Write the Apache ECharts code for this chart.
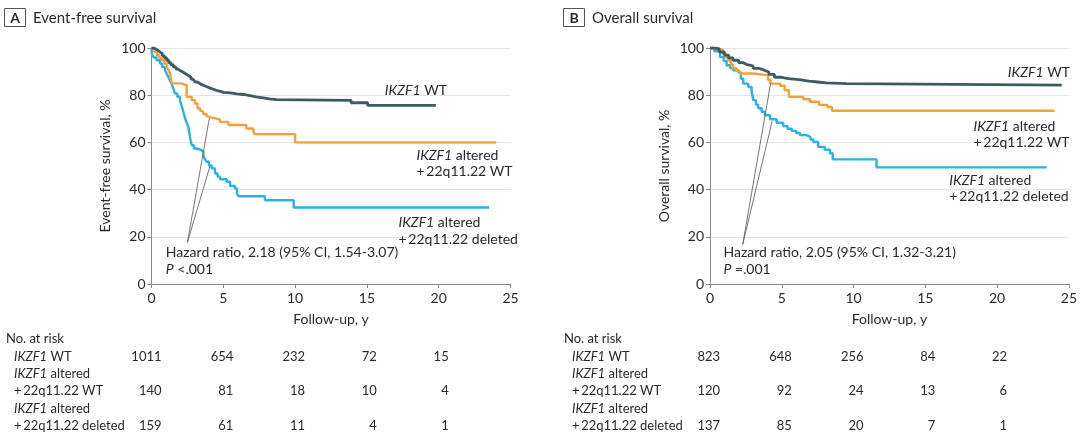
<!DOCTYPE html>
<html><head><meta charset="utf-8">
<script src="https://cdn.jsdelivr.net/npm/echarts@6/dist/echarts.min.js"></script>
<style>html,body{margin:0;padding:0;background:#fff}#c{width:1080px;height:437px}</style>
</head><body><div id="c"></div>
<script>
// ---- Data (Kaplan-Meier steps: [years, survival %]) ----
const efsWT = [[0,100],[0.15,99.6],[0.3,99],[0.45,98.3],[0.6,97.6],[0.75,96.7],[0.9,95.8],[1.06,94.8],[1.2,93.8],[1.35,92.9],[1.52,92],[1.7,91.1],[1.85,90.4],[2.0,89.8],[2.2,89],[2.4,88.3],[2.56,87.7],[2.75,86.8],[2.9,86.1],[3.03,85.6],[3.2,84.8],[3.4,84.2],[3.61,83.5],[3.9,82.8],[4.19,82.1],[4.5,81.6],[4.8,81.2],[5.0,81],[5.5,80.6],[5.93,80.3],[6.4,79.8],[6.86,79.3],[7.3,78.9],[7.79,78.4],[8.2,78.1],[8.72,77.8],[13.9,76.8],[15.05,75.7],[19.8,75.7]];
const efsAltWT = [[0,100],[0.2,98.5],[0.36,96.9],[0.55,95.8],[0.71,94.8],[0.9,93.4],[1.06,92],[1.18,90.6],[1.29,89.2],[1.35,87],[1.42,85],[2.1,84.2],[2.45,79.3],[2.8,77.9],[3.03,76.5],[3.2,74.5],[3.38,73.6],[3.49,72.9],[3.61,72],[3.84,71.1],[3.96,70.5],[4.19,69.7],[4.77,68.7],[5.35,67.4],[6.6,65.9],[7.09,64.5],[7.2,63.5],[10.0,60],[24.0,60]];
const efsAltDel = [[0,100],[0.02,97.6],[0.15,96],[0.35,94.8],[0.59,93.4],[0.75,92],[0.94,90.6],[1.05,89.2],[1.17,87.7],[1.28,86.3],[1.4,84.9],[1.52,82.8],[1.64,80.7],[1.8,79.3],[1.98,77.9],[2.1,75.5],[2.22,72.9],[2.35,70],[2.45,68.4],[2.56,66.6],[2.65,63.5],[2.72,61],[2.8,58.8],[2.95,57.4],[3.1,57],[3.38,56.2],[3.61,54.6],[3.72,52.8],[3.84,51.8],[4.0,50.2],[4.19,49],[4.42,46.8],[4.6,45.5],[4.77,44.4],[5.24,43.3],[5.47,41.5],[5.81,40.5],[5.95,38.5],[6.05,37.2],[7.9,35.5],[9.9,32.4],[23.5,32.4]];

const osWT = [[0,100],[0.3,99.6],[0.65,98.3],[1.0,97],[1.3,95.8],[1.6,94.8],[2.0,93.8],[2.3,93],[2.57,92.4],[3.0,91.4],[3.4,90.6],[3.77,89.8],[4.1,88.8],[4.49,87.6],[5.0,87],[5.45,86.6],[6.2,86],[6.89,85.6],[7.5,85.2],[8.09,84.9],[9.5,84.3],[24.5,84.3]];
const osAltWT = [[0,100],[0.4,99.2],[0.89,97.6],[1.1,96],[1.25,94.8],[1.45,93],[1.6,91.3],[1.85,90.2],[2.09,89.2],[3.05,88.4],[4.05,86.5],[4.2,84.9],[4.9,84],[5.2,82.1],[5.5,79.3],[6.5,78.3],[6.96,77.2],[7.6,75.9],[8.18,75],[8.5,73.4],[24.0,73.4]];
const osAltDel = [[0,100],[0.3,98.6],[0.7,96.2],[0.95,94.5],[1.16,92.7],[1.4,91.5],[1.62,90.6],[1.97,89.7],[2.15,87],[2.32,84.9],[2.67,83.5],[2.9,81.4],[2.97,79.5],[3.02,77.9],[3.2,76],[3.36,74.5],[3.6,73],[3.83,71.5],[4.18,69.8],[4.64,68.3],[5.1,66.9],[5.4,65.8],[5.69,64.9],[6.0,64],[6.27,63.1],[6.73,62.3],[7.0,61.2],[7.2,60.2],[7.54,58.1],[8.0,56.9],[8.36,55.4],[8.55,52.8],[11.6,49.4],[23.45,49.4]];

// Hazard-ratio pointer lines
const hrLinesA = [[[2.5,17.6],[4.03,70.3]], [[2.5,17.6],[4.07,49.9]]];
const hrLinesB = [[[2.28,16.8],[4.22,85.0]], [[2.28,16.8],[4.33,69.0]]];

// Axis ticks
const xTicks = [0,5,10,15,20,25];
const yTicks = [0,20,40,60,80,100];

// Number at risk
const riskTimes = [0,5,10,15,20];
const riskEfsWT = [1011,654,232,72,15];
const riskEfsAltWT = [140,81,18,10,4];
const riskEfsAltDel = [159,61,11,4,1];
const riskOsWT = [823,648,256,84,22];
const riskOsAltWT = [120,92,24,13,6];
const riskOsAltDel = [137,85,20,7,1];

// Texts
const panelTitles = ['Event-free survival','Overall survival'];
const panelLetters = ['A','B'];
const yNames = ['Event-free survival, %','Overall survival, %'];
const xName = 'Follow-up, y';
const hrTextA = ['Hazard ratio, 2.18 (95% CI, 1.54-3.07)','<.001'];
const hrTextB = ['Hazard ratio, 2.05 (95% CI, 1.32-3.21)','=.001'];

// ---- Styles ----
const FONT = 'Lato, "Noto Sans", sans-serif';
const TXT = '#2a2a2a';
const C_WT = '#3e5b63';
const C_ALT = '#f5a036';
const C_DEL = '#27b3e8';

const chart = echarts.init(document.getElementById('c'), null, {renderer:'canvas'});

function xAxisCfg(gi){
  return {gridIndex:gi, type:'value', min:0, max:25, interval:5, name:xName, nameLocation:'middle', nameGap:28,
    nameTextStyle:{fontSize:14, color:TXT, fontFamily:FONT},
    axisLine:{show:true, onZero:false, lineStyle:{color:'#8a8a8a', width:1}},
    axisTick:{show:true, length:4, lineStyle:{color:'#8a8a8a'}},
    axisLabel:{fontSize:14, color:TXT, fontFamily:FONT, margin:7},
    splitLine:{show:false}};
}
function yAxisCfg(gi){
  return {gridIndex:gi, type:'value', min:0, max:100, interval:20, name:yNames[gi], nameLocation:'middle', nameGap:39, nameRotate:90,
    nameTextStyle:{fontSize:14, color:TXT, fontFamily:FONT},
    axisLine:{show:true, lineStyle:{color:'#8a8a8a', width:1}},
    axisTick:{show:true, length:4, lineStyle:{color:'#8a8a8a'}},
    axisLabel:{fontSize:14, color:TXT, fontFamily:FONT, margin:6},
    splitLine:{show:true, lineStyle:{color:'#e4e4e4', width:1}}};
}
function km(data, gi, color, w){
  return {type:'line', xAxisIndex:gi, yAxisIndex:gi, data:data, step:'end', showSymbol:false, symbol:'none',
    lineStyle:{color:color, width:w}, silent:true, z:3};
}
function pointer(data, gi){
  return {type:'line', xAxisIndex:gi, yAxisIndex:gi, data:data, showSymbol:false, symbol:'none',
    lineStyle:{color:'#666666', width:0.9}, silent:true, z:4};
}

chart.setOption({
  animation:false,
  textStyle:{fontFamily:FONT},
  grid:[{left:151.5, right:569.5, top:48, bottom:153},{left:710, right:11, top:48, bottom:153}],
  xAxis:[xAxisCfg(0), xAxisCfg(1)],
  yAxis:[yAxisCfg(0), yAxisCfg(1)],
  series:[
    km(efsAltDel,0,C_DEL,2.4), km(efsAltWT,0,C_ALT,2.4), km(efsWT,0,C_WT,2.8),
    km(osAltDel,1,C_DEL,2.4), km(osAltWT,1,C_ALT,2.4), km(osWT,1,C_WT,2.8),
    pointer(hrLinesA[0],0), pointer(hrLinesA[1],0), pointer(hrLinesB[0],1), pointer(hrLinesB[1],1)
  ]
});

function txt(x, y, text, opt){
  opt = opt || {};
  return {type:'text', x:x, y:y, silent:true, z:10, style:{text:text, fill:TXT, fontSize:opt.size||14, fontFamily:FONT,
    fontWeight:opt.weight||'normal', textAlign:opt.align||'left', textVerticalAlign:'middle', rich:{
      i:{fontStyle:'italic', fontSize:opt.size||14, fill:TXT, fontFamily:FONT},
      n:{fontSize:opt.size||14, fill:TXT, fontFamily:FONT}}}};
}
function P(gi, pt){ return chart.convertToPixel({gridIndex:gi}, pt); }

const g = [];
// Panel titles
const titleX = [4, 563];
for (let k=0;k<2;k++){
  g.push({type:'rect', shape:{x:titleX[k]+0.5, y:8.5, width:21, height:18}, style:{fill:'#fff', stroke:'#555', lineWidth:1}, silent:true});
  g.push(txt(titleX[k]+11, 18, panelLetters[k], {align:'center', weight:'bold', size:14}));
  g.push(txt(titleX[k]+29, 18, panelTitles[k], {size:15}));
}
function lab(gi, x, y, t, align){ const p=P(gi,[x,y]); return txt(p[0], p[1], t, {align:align||'left', size:14}); }
// Panel A labels
g.push(lab(0, 16.25, 81.8, '{i|IKZF1}{n| WT}'));
g.push(lab(0, 18.45, 54.6, '{i|IKZF1}{n| altered}'));
g.push(lab(0, 18.45, 47.8, '{n|+\u200922q11.22 WT}'));
g.push(lab(0, 17.2, 26.0, '{i|IKZF1}{n| altered}'));
g.push(lab(0, 17.2, 19.0, '{n|+\u200922q11.22 deleted}'));
g.push(lab(0, 1.0, 13.4, '{n|'+hrTextA[0]+'}'));
g.push(lab(0, 1.0, 6.3, '{i|P}{n| '+hrTextA[1]+'}'));
// Panel B labels
g.push(lab(1, 20.75, 89.6, '{i|IKZF1}{n| WT}'));
g.push(lab(1, 18.35, 66.6, '{i|IKZF1}{n| altered}'));
g.push(lab(1, 18.35, 59.8, '{n|+\u200922q11.22 WT}'));
g.push(lab(1, 16.67, 44.0, '{i|IKZF1}{n| altered}'));
g.push(lab(1, 16.67, 37.2, '{n|+\u200922q11.22 deleted}'));
g.push(lab(1, 0.94, 13.4, '{n|'+hrTextB[0]+'}'));
g.push(lab(1, 0.94, 6.3, '{i|P}{n| '+hrTextB[1]+'}'));

// Number-at-risk tables
const tableLeft = [6, 564];
const rowY = [338.5, 356.5, 373.5, 391, 408.5, 425.5];
const riskSets = [[riskEfsWT, riskEfsAltWT, riskEfsAltDel],[riskOsWT, riskOsAltWT, riskOsAltDel]];
for (let k=0;k<2;k++){
  const L = tableLeft[k];
  g.push(txt(L, rowY[0], '{n|No. at risk}', {size:13}));
  g.push(txt(L+8, rowY[1], '{i|IKZF1}{n| WT}', {size:13}));
  g.push(txt(L+8, rowY[2], '{i|IKZF1}{n| altered}', {size:13}));
  g.push(txt(L+8, rowY[3], '{n|+\u200922q11.22 WT}', {size:13}));
  g.push(txt(L+8, rowY[4], '{i|IKZF1}{n| altered}', {size:13}));
  g.push(txt(L+8, rowY[5], '{n|+\u200922q11.22 deleted}', {size:13}));
  const rows = [rowY[1], rowY[3], rowY[5]];
  for (let r=0;r<3;r++){
    for (let c=0;c<riskTimes.length;c++){
      const px = P(k, [riskTimes[c], 0])[0] + 10;
      g.push(txt(px, rows[r], '{n|'+riskSets[k][r][c]+'}', {align:'right', size:13}));
    }
  }
}
chart.setOption({graphic:g});
</script></body></html>
